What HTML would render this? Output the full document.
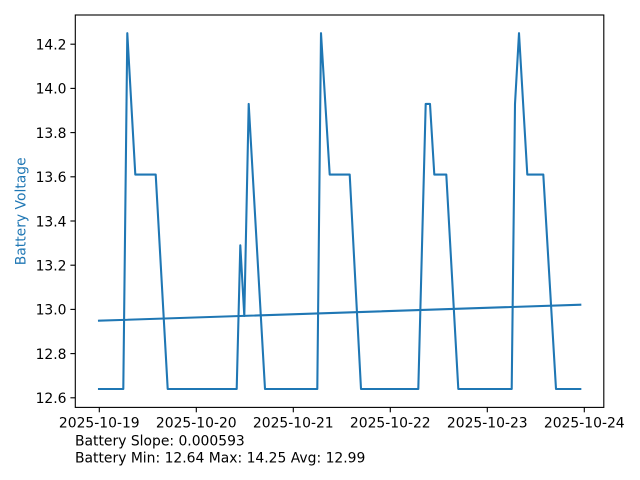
<!DOCTYPE html>
<html>
<head>
<meta charset="utf-8">
<style>
html,body{margin:0;padding:0;background:#fff;}
svg{display:block;}
text{font-family:"DejaVu Sans","Liberation Sans",sans-serif;font-size:13.9px;fill:#000;}
</style>
</head>
<body>
<svg width="640" height="480" viewBox="0 0 640 480" xmlns="http://www.w3.org/2000/svg">
<rect x="0" y="0" width="640" height="480" fill="#fff"/>
<!-- data -->
<polyline fill="none" stroke="#1f77b4" stroke-width="2.08" stroke-linejoin="round" stroke-linecap="square"
points="99,389 123.3,389 127.3,33.15 135.3,174.6 155.7,174.6 167.7,389 236.7,389 240.3,245.3 244.3,316 248.7,103.9 265,389 317.3,389 321,33.15 329.7,174.6 349.7,174.6 361,389 418.3,389 425.7,103.9 430,103.9 434.3,174.6 446.3,174.6 458.3,389 511.7,389 515,103.9 519,33.15 527.3,174.6 543.3,174.6 556,389 580.3,389"/>
<!-- trend -->
<line x1="99" y1="320.7" x2="580.3" y2="304.7" stroke="#1f77b4" stroke-width="2.08" stroke-linecap="square"/>
<!-- axes frame -->
<rect x="75.3" y="15" width="528.5" height="392.4" fill="none" stroke="#000" stroke-width="1.11"/>
<!-- y ticks -->
<g stroke="#000" stroke-width="1.11">
<line x1="70.4" y1="44.2" x2="75.3" y2="44.2"/>
<line x1="70.4" y1="88.4" x2="75.3" y2="88.4"/>
<line x1="70.4" y1="132.6" x2="75.3" y2="132.6"/>
<line x1="70.4" y1="176.8" x2="75.3" y2="176.8"/>
<line x1="70.4" y1="221" x2="75.3" y2="221"/>
<line x1="70.4" y1="265.2" x2="75.3" y2="265.2"/>
<line x1="70.4" y1="309.4" x2="75.3" y2="309.4"/>
<line x1="70.4" y1="353.6" x2="75.3" y2="353.6"/>
<line x1="70.4" y1="397.8" x2="75.3" y2="397.8"/>
</g>
<g text-anchor="end">
<text x="66.5" y="49.5">14.2</text>
<text x="66.5" y="93.7">14.0</text>
<text x="66.5" y="137.9">13.8</text>
<text x="66.5" y="182.1">13.6</text>
<text x="66.5" y="226.3">13.4</text>
<text x="66.5" y="270.5">13.2</text>
<text x="66.5" y="314.7">13.0</text>
<text x="66.5" y="358.9">12.8</text>
<text x="66.5" y="403.1">12.6</text>
</g>
<!-- x ticks -->
<g stroke="#000" stroke-width="1.11">
<line x1="99.3" y1="407.4" x2="99.3" y2="412.3"/>
<line x1="196.3" y1="407.4" x2="196.3" y2="412.3"/>
<line x1="293.3" y1="407.4" x2="293.3" y2="412.3"/>
<line x1="390.3" y1="407.4" x2="390.3" y2="412.3"/>
<line x1="487.3" y1="407.4" x2="487.3" y2="412.3"/>
<line x1="584.3" y1="407.4" x2="584.3" y2="412.3"/>
</g>
<g text-anchor="middle">
<text x="99.3" y="427.3">2025-10-19</text>
<text x="196.3" y="427.3">2025-10-20</text>
<text x="293.3" y="427.3">2025-10-21</text>
<text x="390.3" y="427.3">2025-10-22</text>
<text x="487.3" y="427.3">2025-10-23</text>
<text x="584.3" y="427.3">2025-10-24</text>
</g>
<!-- y label -->
<text x="0" y="0" text-anchor="middle" transform="translate(25.3,211.3) rotate(-90)" style="fill:#1f77b4">Battery Voltage</text>
<!-- footer text -->
<text x="75" y="445.7">Battery Slope: 0.000593</text>
<text x="75" y="462.3">Battery Min: 12.64 Max: 14.25 Avg: 12.99</text>
</svg>
</body>
</html>
